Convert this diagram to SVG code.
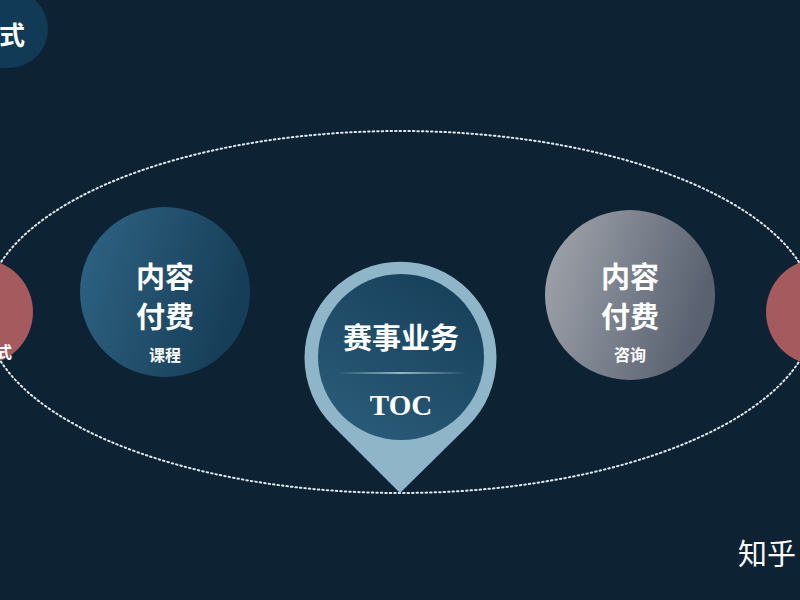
<svg xmlns="http://www.w3.org/2000/svg" width="800" height="600" viewBox="0 0 800 600">
  <defs>
    <linearGradient id="gBlue" x1="0" y1="0" x2="1" y2="0.3">
      <stop offset="0" stop-color="#2f6585"/>
      <stop offset="1" stop-color="#173e58"/>
    </linearGradient>
    <linearGradient id="gGrey" x1="0" y1="0" x2="1" y2="0.3">
      <stop offset="0" stop-color="#a3a7ae"/>
      <stop offset="1" stop-color="#5a6271"/>
    </linearGradient>
    <linearGradient id="gInner" x1="0.2" y1="1" x2="0.8" y2="0">
      <stop offset="0" stop-color="#2a5c79"/>
      <stop offset="1" stop-color="#173f59"/>
    </linearGradient>
    <linearGradient id="gRule" x1="0" y1="0" x2="1" y2="0">
      <stop offset="0" stop-color="#8fb6c8" stop-opacity="0"/>
      <stop offset="0.5" stop-color="#8fb6c8" stop-opacity="1"/>
      <stop offset="1" stop-color="#8fb6c8" stop-opacity="0"/>
    </linearGradient>
    <style>
      .cjk { font-family: "Noto Sans CJK SC", "Noto Sans", sans-serif; font-weight: 700; fill: #ffffff; text-anchor: middle; }
      .big { font-size: 29px; }
      .small { font-size: 16px; }
      .red { fill: #a55a5e; }
    </style>
  </defs>
  <rect width="800" height="600" fill="#0d2232"/>

  <g id="title-tab">
    <rect x="-40" y="-10" width="88" height="78" rx="39" fill="#103a55"/>
    <text class="cjk" x="12" y="45" font-size="26">式</text>
  </g>

  <g id="connectors">
    <ellipse cx="400" cy="312" rx="415" ry="181" fill="none" stroke="#dfe8ee" stroke-width="2" stroke-dasharray="1.5 3" stroke-linecap="round"/>
  </g>

  <g id="node-left-red">
    <circle class="red" cx="-20" cy="312" r="53"/>
    <text class="cjk small" x="4" y="358" font-size="14">式</text>
  </g>

  <g id="node-right-red">
    <circle class="red" cx="819" cy="312" r="53"/>
  </g>

  <g id="node-course">
    <circle cx="165" cy="292" r="85" fill="url(#gBlue)"/>
    <text class="cjk big" x="165" y="288">内容</text>
    <text class="cjk big" x="165" y="328">付费</text>
    <text class="cjk small" x="165" y="361">课程</text>
  </g>

  <g id="node-consult">
    <circle cx="630" cy="295" r="85" fill="url(#gGrey)"/>
    <text class="cjk big" x="630" y="288">内容</text>
    <text class="cjk big" x="630" y="328">付费</text>
    <text class="cjk small" x="630" y="361">咨询</text>
  </g>

  <g id="node-toc">
    <path d="M400 493 L333 426 A96 96 0 1 1 468 426 Z" fill="#8fb6c8"/>
    <circle cx="401" cy="357" r="83" fill="url(#gInner)"/>
    <text class="cjk" x="401" y="349" font-size="29">赛事业务</text>
    <rect x="335" y="372" width="132" height="2" fill="url(#gRule)"/>
    <text x="401" y="415" font-family="'Liberation Serif', serif" font-weight="700" font-size="29" fill="#ffffff" text-anchor="middle">TOC</text>
  </g>

  <g id="watermark">
    <text x="738" y="565" font-family="'Noto Sans CJK SC', sans-serif" font-size="29" font-weight="400" fill="#ffffff">知乎</text>
  </g>
</svg>
